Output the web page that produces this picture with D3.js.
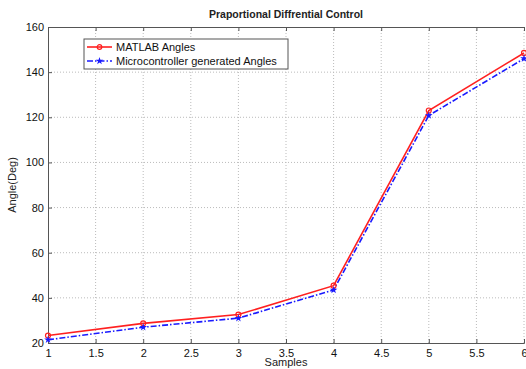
<!DOCTYPE html>
<html>
<head>
<meta charset="utf-8">
<script src="https://cdn.jsdelivr.net/npm/d3@7"></script>
<style>
  body { margin: 0; background: #fff; }
  svg { display: block; font-family: Arial, "Liberation Sans", sans-serif; }
</style>
</head>
<body>
<script>
// Data
const samples = [1, 2, 3, 4, 5, 6];
const matlabAngles = [23.3, 28.7, 32.6, 45.4, 123, 148.5];
const microAngles = [21.4, 27, 31, 43.5, 120.8, 146];
const xTicks = [1, 1.5, 2, 2.5, 3, 3.5, 4, 4.5, 5, 5.5, 6];
const yTicks = [20, 40, 60, 80, 100, 120, 140, 160];

const w = 526;
const h = 369;
const padL = 48, padR = 524, padT = 27, padB = 343;

const svg = d3.select("body")
  .append("svg")
  .attr("width", w)
  .attr("height", h);

const xScale = d3.scaleLinear().domain([1, 6]).range([padL, padR]);
const yScale = d3.scaleLinear().domain([20, 160]).range([padB, padT]);

// grid lines
svg.append("g")
  .selectAll("line")
  .data(xTicks.slice(1))
  .enter()
  .append("line")
  .attr("x1", d => xScale(d)).attr("x2", d => xScale(d))
  .attr("y1", padT).attr("y2", padB)
  .attr("stroke", "#bbb")
  .attr("stroke-dasharray", "1,2");

svg.append("g")
  .selectAll("line")
  .data(yTicks.slice(1, -1))
  .enter()
  .append("line")
  .attr("x1", padL).attr("x2", padR)
  .attr("y1", d => yScale(d)).attr("y2", d => yScale(d))
  .attr("stroke", "#bbb")
  .attr("stroke-dasharray", "1,2");

// axes
svg.append("g")
  .attr("transform", `translate(0, ${padB})`)
  .call(d3.axisBottom(xScale).tickValues(xTicks).tickSize(-4).tickPadding(6).tickFormat(d3.format("")))
  .call(g => g.select(".domain").attr("stroke", "#555"))
  .call(g => g.selectAll(".tick line").attr("stroke", "#555"))
  .call(g => g.selectAll("text").attr("font-size", 11).attr("fill", "#111").attr("font-family", "Arial, Liberation Sans, sans-serif"));

svg.append("g")
  .attr("transform", `translate(${padL}, 0)`)
  .call(d3.axisLeft(yScale).tickValues(yTicks).tickSize(-4).tickPadding(4))
  .call(g => g.select(".domain").attr("stroke", "#555"))
  .call(g => g.selectAll(".tick line").attr("stroke", "#555"))
  .call(g => g.selectAll("text").attr("font-size", 11).attr("fill", "#111").attr("font-family", "Arial, Liberation Sans, sans-serif"));

// top border with ticks
svg.append("g")
  .attr("transform", `translate(0, ${padT})`)
  .call(d3.axisTop(xScale).tickValues(xTicks).tickSize(-4).tickFormat(""))
  .call(g => g.select(".domain").attr("stroke", "#555"))
  .call(g => g.selectAll(".tick line").attr("stroke", "#555"));

// lines
const line = d3.line()
  .x((d, i) => xScale(samples[i]))
  .y(d => yScale(d));

svg.append("path")
  .datum(matlabAngles)
  .attr("d", line)
  .attr("fill", "none")
  .attr("stroke", "#ff2020")
  .attr("stroke-width", 1.6);

svg.append("path")
  .datum(microAngles)
  .attr("d", line)
  .attr("fill", "none")
  .attr("stroke", "#1a1aff")
  .attr("stroke-width", 1.6)
  .attr("stroke-dasharray", "6,2,1.5,2");

// markers
svg.append("g")
  .selectAll("circle")
  .data(matlabAngles)
  .enter()
  .append("circle")
  .attr("cx", (d, i) => xScale(samples[i]))
  .attr("cy", d => yScale(d))
  .attr("r", 2.5)
  .attr("fill", "none")
  .attr("stroke", "#ff2020")
  .attr("stroke-width", 1.2);

const star = d3.symbol().type(d3.symbolStar).size(18);
svg.append("g")
  .selectAll("path")
  .data(microAngles)
  .enter()
  .append("path")
  .attr("transform", (d, i) => `translate(${xScale(samples[i])}, ${yScale(d)})`)
  .attr("d", star)
  .attr("fill", "#1a1aff");

// title and labels
svg.append("text")
  .attr("x", (padL + padR) / 2)
  .attr("y", 18)
  .attr("text-anchor", "middle")
  .attr("font-size", 10.5)
  .attr("font-weight", "bold")
  .attr("fill", "#222")
  .text("Praportional Diffrential Control");

svg.append("text")
  .attr("x", (padL + padR) / 2)
  .attr("y", 366)
  .attr("text-anchor", "middle")
  .attr("font-size", 11)
  .attr("fill", "#222")
  .text("Samples");

svg.append("text")
  .attr("transform", `translate(16, ${(padT + padB) / 2}) rotate(-90)`)
  .attr("text-anchor", "middle")
  .attr("font-size", 11)
  .attr("fill", "#222")
  .text("Angle(Deg)");

// legend
const legend = svg.append("g").attr("transform", "translate(84, 39)");
legend.append("rect")
  .attr("width", 204).attr("height", 30)
  .attr("fill", "#fff")
  .attr("stroke", "#555");

legend.append("line")
  .attr("x1", 3).attr("x2", 28).attr("y1", 8).attr("y2", 8)
  .attr("stroke", "#ff2020").attr("stroke-width", 1.6);
legend.append("circle")
  .attr("cx", 15.5).attr("cy", 8).attr("r", 2.3)
  .attr("fill", "none").attr("stroke", "#ff2020").attr("stroke-width", 1.2);
legend.append("text")
  .attr("x", 32).attr("y", 12)
  .attr("font-size", 11).attr("fill", "#111")
  .text("MATLAB Angles");

legend.append("line")
  .attr("x1", 3).attr("x2", 28).attr("y1", 22).attr("y2", 22)
  .attr("stroke", "#1a1aff").attr("stroke-width", 1.6)
  .attr("stroke-dasharray", "6,2,1.5,2");
legend.append("path")
  .attr("transform", "translate(15.5, 22)")
  .attr("d", star)
  .attr("fill", "#1a1aff");
legend.append("text")
  .attr("x", 32).attr("y", 26)
  .attr("font-size", 11).attr("fill", "#111")
  .text("Microcontroller generated Angles");
</script>
</body>
</html>
